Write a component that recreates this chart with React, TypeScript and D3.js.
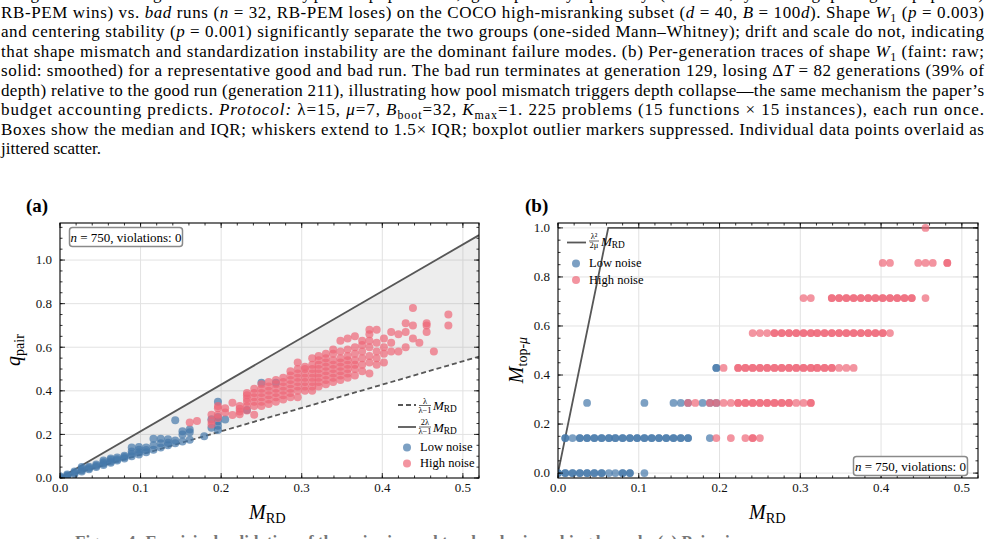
import React from 'react'
import * as d3 from 'd3'

const W = 988
const H = 539
const LAMBDA = 15
const MU = 7

const xTicks = [0, 0.1, 0.2, 0.3, 0.4, 0.5]
const yTicks = [0, 0.2, 0.4, 0.6, 0.8, 1.0]

// (a) q_pair vs M_RD, one entry per M_RD column: [M_RD, q_pair values]
const lowNoiseA: [number, number[]][] = [
  [0.000, [0.000, 0.004, 0.008]],
  [0.009, [0.008, 0.012, 0.016]],
  [0.018, [0.018, 0.024, 0.030]],
  [0.027, [0.030, 0.036, 0.042, 0.050]],
  [0.036, [0.040, 0.046, 0.052]],
  [0.045, [0.050, 0.056, 0.062]],
  [0.054, [0.060, 0.066, 0.072, 0.080]],
  [0.063, [0.070, 0.076, 0.084, 0.090]],
  [0.071, [0.080, 0.086, 0.094]],
  [0.080, [0.090, 0.096, 0.102]],
  [0.089, [0.100, 0.110, 0.122, 0.140]],
  [0.098, [0.108, 0.118, 0.130, 0.142]],
  [0.107, [0.118, 0.128, 0.140]],
  [0.116, [0.130, 0.150, 0.180]],
  [0.125, [0.140, 0.160, 0.180]],
  [0.134, [0.150, 0.162, 0.178]],
  [0.143, [0.160, 0.172, 0.265]],
  [0.152, [0.168, 0.200, 0.215]],
  [0.161, [0.176, 0.210, 0.222]],
  [0.179, [0.192]],
  [0.188, [0.230, 0.270]],
  [0.196, [0.220, 0.240, 0.260, 0.280, 0.350]],
  [0.205, [0.268]],
  [0.232, [0.312]],
  [0.250, [0.437]],
  [0.268, [0.437]],
]

const highNoiseA: [number, number[]][] = [
  [0.161, [0.255]],
  [0.170, [0.262]],
  [0.188, [0.245, 0.262, 0.290]],
  [0.196, [0.275, 0.290, 0.320, 0.330]],
  [0.205, [0.300, 0.320]],
  [0.214, [0.289, 0.345]],
  [0.223, [0.292, 0.305, 0.318, 0.330]],
  [0.232, [0.310, 0.330, 0.350, 0.365, 0.380, 0.390]],
  [0.241, [0.290, 0.330, 0.350, 0.370, 0.390, 0.410]],
  [0.250, [0.330, 0.350, 0.370, 0.390, 0.410, 0.430]],
  [0.259, [0.340, 0.360, 0.380, 0.400, 0.420, 0.440]],
  [0.268, [0.350, 0.370, 0.390, 0.410, 0.430, 0.450]],
  [0.277, [0.360, 0.380, 0.400, 0.420, 0.440, 0.460]],
  [0.286, [0.370, 0.390, 0.410, 0.430, 0.450, 0.470, 0.490]],
  [0.295, [0.370, 0.400, 0.420, 0.440, 0.460, 0.480, 0.500, 0.530]],
  [0.304, [0.400, 0.420, 0.440, 0.460, 0.480, 0.500, 0.510]],
  [0.313, [0.400, 0.420, 0.440, 0.460, 0.480, 0.500, 0.520, 0.550]],
  [0.321, [0.420, 0.440, 0.460, 0.480, 0.500, 0.520, 0.540, 0.560]],
  [0.330, [0.430, 0.450, 0.470, 0.490, 0.510, 0.530, 0.550, 0.570]],
  [0.339, [0.440, 0.460, 0.480, 0.500, 0.520, 0.540, 0.570, 0.590]],
  [0.348, [0.450, 0.470, 0.490, 0.510, 0.530, 0.550, 0.580, 0.630]],
  [0.357, [0.460, 0.480, 0.500, 0.520, 0.540, 0.560, 0.590, 0.640]],
  [0.366, [0.470, 0.500, 0.520, 0.540, 0.570, 0.600, 0.650]],
  [0.375, [0.490, 0.520, 0.550, 0.580, 0.610, 0.630]],
  [0.384, [0.480, 0.530, 0.560, 0.600, 0.630, 0.660, 0.680]],
  [0.393, [0.520, 0.550, 0.580, 0.620, 0.680]],
  [0.402, [0.530, 0.570, 0.600, 0.640]],
  [0.411, [0.580, 0.620, 0.670]],
  [0.420, [0.580, 0.660]],
  [0.429, [0.600, 0.670, 0.710]],
  [0.438, [0.640, 0.700, 0.780]],
  [0.446, [0.620]],
  [0.455, [0.670, 0.700, 0.710]],
  [0.464, [0.580]],
  [0.482, [0.700, 0.750]],
]

// (b) M_top-mu vs M_RD, one entry per level: [M_top-mu, M_RD values] (repeats = overlapping runs)
const lowNoiseB: [number, number[]][] = [
  [0.000, [0.000, 0.000, 0.009, 0.009, 0.018, 0.018, 0.027, 0.027, 0.036, 0.036, 0.045, 0.045, 0.054, 0.054, 0.063, 0.071, 0.080, 0.080, 0.089, 0.089, 0.107]],
  [0.143, [0.009, 0.009, 0.018, 0.027, 0.027, 0.036, 0.036, 0.045, 0.045, 0.054, 0.054, 0.063, 0.063, 0.071, 0.071, 0.080, 0.080, 0.089, 0.089, 0.098, 0.098, 0.107, 0.107, 0.116, 0.116, 0.125, 0.125, 0.134, 0.134, 0.143, 0.143, 0.152, 0.152, 0.161, 0.161, 0.188]],
  [0.286, [0.036, 0.107, 0.143, 0.152, 0.161, 0.179, 0.188, 0.196]],
  [0.429, [0.196, 0.196]],
]

const highNoiseB: [number, number[]][] = [
  [0.143, [0.196, 0.214, 0.232, 0.241, 0.241, 0.250]],
  [0.286, [0.161, 0.170, 0.188, 0.196, 0.205, 0.214, 0.223, 0.223, 0.232, 0.232, 0.241, 0.241, 0.250, 0.250, 0.259, 0.259, 0.268, 0.268, 0.277, 0.277, 0.286, 0.286, 0.295, 0.304, 0.313, 0.313]],
  [0.429, [0.205, 0.223, 0.223, 0.232, 0.232, 0.241, 0.241, 0.250, 0.250, 0.259, 0.259, 0.268, 0.268, 0.277, 0.277, 0.286, 0.286, 0.295, 0.295, 0.304, 0.304, 0.313, 0.313, 0.321, 0.321, 0.330, 0.330, 0.339, 0.339, 0.348, 0.357, 0.366]],
  [0.571, [0.241, 0.250, 0.259, 0.268, 0.268, 0.277, 0.277, 0.286, 0.286, 0.295, 0.295, 0.304, 0.304, 0.313, 0.313, 0.321, 0.321, 0.330, 0.330, 0.339, 0.339, 0.348, 0.348, 0.357, 0.357, 0.366, 0.366, 0.375, 0.375, 0.384, 0.384, 0.393, 0.393, 0.402, 0.402, 0.411]],
  [0.714, [0.304, 0.313, 0.339, 0.339, 0.348, 0.348, 0.357, 0.357, 0.366, 0.366, 0.375, 0.375, 0.384, 0.384, 0.393, 0.393, 0.402, 0.402, 0.411, 0.411, 0.420, 0.420, 0.429, 0.429, 0.438, 0.438, 0.455]],
  [0.857, [0.402, 0.411, 0.446, 0.455, 0.464, 0.482, 0.482]],
  [1.000, [0.455]],
]

const BLUE = '#4477AA'
const PINK = '#EE6677'
const LINE = '#575757'
const SERIF = "'Liberation Serif', 'Times New Roman', Times, serif"

const colsToPts = (cols: [number, number[]][]) => cols.flatMap(([x, ys]) => ys.map(y => [x, y]))
const rowsToPts = (rows: [number, number[]][]) => rows.flatMap(([y, xs]) => xs.map(x => [x, y]))

function Grid({ x, y }: any) {
  const [l, r] = x.range()
  const [b, t] = y.range()
  return (
    <g stroke="#e2e2e2" strokeWidth={1}>
      {xTicks.filter(v => v > 0).map(v => <line key={'gx' + v} x1={x(v)} x2={x(v)} y1={t} y2={b} />)}
      {yTicks.filter(v => y(v) < b - 2).map(v => <line key={'gy' + v} x1={l} x2={r} y1={y(v)} y2={y(v)} />)}
    </g>
  )
}

function Frame({ x, y, labelRight }: any) {
  const [l, r] = x.range()
  const [b, t] = y.range()
  const xMinor = d3.range(0, x.domain()[1] + 1e-9, 0.02)
  const yMinor = d3.range(0, y.domain()[1] + 1e-9, 0.05)
  const fmt = d3.format('.1f')
  return (
    <g>
      <g stroke="#000" strokeWidth={0.8}>
        {xMinor.map(v => (
          <g key={'xm' + v}>
            <line x1={x(v)} x2={x(v)} y1={b} y2={b - 2.5} />
            <line x1={x(v)} x2={x(v)} y1={t} y2={t + 2.5} />
          </g>
        ))}
        {xTicks.map(v => (
          <g key={'xM' + v}>
            <line x1={x(v)} x2={x(v)} y1={b} y2={b - 5} />
            <line x1={x(v)} x2={x(v)} y1={t} y2={t + 5} />
          </g>
        ))}
        {yMinor.map(v => (
          <g key={'ym' + v}>
            <line x1={l} x2={l + 2.5} y1={y(v)} y2={y(v)} />
            <line x1={r} x2={r - 2.5} y1={y(v)} y2={y(v)} />
          </g>
        ))}
        {yTicks.map(v => (
          <g key={'yM' + v}>
            <line x1={l} x2={l + 5} y1={y(v)} y2={y(v)} />
            <line x1={r} x2={r - 5} y1={y(v)} y2={y(v)} />
          </g>
        ))}
      </g>
      <rect x={l} y={t} width={r - l} height={b - t} fill="none" stroke="#000" strokeWidth={1.1} />
      <g fontFamily={SERIF} fontSize={13} fill="#111">
        {xTicks.map(v => (
          <text key={'xl' + v} x={x(v)} y={492} textAnchor="middle">{fmt(v)}</text>
        ))}
        {yTicks.map(v => (
          <text key={'yl' + v} x={labelRight} y={y(v)} dy="0.33em" textAnchor="end">{fmt(v)}</text>
        ))}
      </g>
    </g>
  )
}

function Dots({ x, y, pts, color, r }: any) {
  return (
    <g fill={color} fillOpacity={0.7}>
      {pts.map((p: number[], i: number) => <circle key={i} cx={x(p[0])} cy={y(p[1])} r={r} />)}
    </g>
  )
}

function MRD({ x, y, size }: any) {
  return (
    <text x={x} y={y} fontFamily={SERIF} fontSize={size}>
      <tspan fontStyle="italic">M</tspan>
      <tspan fontSize={size * 0.72} dy={size * 0.18}>RD</tspan>
    </text>
  )
}

function Frac({ x, y, num, den, w }: any) {
  return (
    <g fontFamily={SERIF} fontSize={8.5} textAnchor="middle">
      <text x={x + w / 2} y={y - 1.8}>{num}</text>
      <line x1={x} x2={x + w} y1={y} y2={y} stroke="#000" strokeWidth={0.6} />
      <text x={x + w / 2} y={y + 7.2}>{den}</text>
    </g>
  )
}

function NoteBox({ x, y, w }: any) {
  return (
    <g>
      <rect x={x} y={y} width={w} height={19} rx={3} fill="#fff" stroke="#8a8a8a" strokeWidth={1.5} />
      <text x={x + w / 2} y={y + 14} textAnchor="middle" fontFamily={SERIF} fontSize={13}>
        <tspan fontStyle="italic">n</tspan> = 750, violations: 0
      </text>
    </g>
  )
}

function PanelA() {
  const x = d3.scaleLinear().domain([0, 0.52]).range([60, 479])
  const y = d3.scaleLinear().domain([0, 1.17]).range([478, 223])
  const lo = LAMBDA / (LAMBDA - 1)
  const hi = (2 * LAMBDA) / (LAMBDA - 1)
  const xs = x.domain()
  const band = d3.area<number>().x(d => x(d)).y0(d => y(lo * d)).y1(d => y(hi * d))(xs)
  const lineLo = d3.line<number>().x(d => x(d)).y(d => y(lo * d))(xs)
  const lineHi = d3.line<number>().x(d => x(d)).y(d => y(hi * d))(xs)
  return (
    <g>
      <defs>
        <clipPath id="clipA"><rect x={60} y={223} width={419} height={255} /></clipPath>
      </defs>
      <Grid x={x} y={y} />
      <g clipPath="url(#clipA)">
        <path d={band || ''} fill="#8c8c8c" fillOpacity={0.16} />
        <path d={lineLo || ''} fill="none" stroke={LINE} strokeWidth={1.8} strokeDasharray="5,3" />
        <path d={lineHi || ''} fill="none" stroke={LINE} strokeWidth={1.8} />
        <Dots x={x} y={y} pts={colsToPts(lowNoiseA)} color={BLUE} r={4} />
        <Dots x={x} y={y} pts={colsToPts(highNoiseA)} color={PINK} r={4} />
      </g>
      <Frame x={x} y={y} labelRight={52} />
      <NoteBox x={69.5} y={227.5} w={113} />
      <g>
        <line x1={398} x2={416} y1={405} y2={405} stroke={LINE} strokeWidth={1.8} strokeDasharray="5,3" />
        <Frac x={419} y={405.5} num="λ" den="λ−1" w={12} />
        <MRD x={433} y={410} size={13} />
        <line x1={398} x2={416} y1={427} y2={427} stroke={LINE} strokeWidth={1.8} />
        <Frac x={419} y={427} num="2λ" den="λ−1" w={12} />
        <MRD x={433} y={431.5} size={13} />
        <circle cx={407} cy={447.5} r={4} fill={BLUE} fillOpacity={0.7} />
        <text x={420} y={451} fontFamily={SERIF} fontSize={12.5}>Low noise</text>
        <circle cx={407} cy={463.5} r={4} fill={PINK} fillOpacity={0.7} />
        <text x={420} y={467} fontFamily={SERIF} fontSize={12.5}>High noise</text>
      </g>
      <text x={26} y={212} fontFamily={SERIF} fontSize={19} fontWeight="bold">(a)</text>
      <MRD x={249} y={519} size={20} />
      <text transform="translate(20,350) rotate(-90)" textAnchor="middle" fontFamily={SERIF} fontSize={20}>
        <tspan fontStyle="italic">q</tspan>
        <tspan fontSize={14} dy={4}>pair</tspan>
      </text>
    </g>
  )
}

function PanelB() {
  const x = d3.scaleLinear().domain([0, 0.52]).range([558, 978])
  const y = d3.scaleLinear().domain([-0.02, 1.02]).range([478, 223])
  const slope = (LAMBDA * LAMBDA) / (2 * MU)
  const knee = 1 / slope
  const bound = d3.line<number>().x(d => x(d)).y(d => y(Math.min(1, slope * d)))([0, knee, x.domain()[1]])
  return (
    <g>
      <defs>
        <clipPath id="clipB"><rect x={558} y={223} width={420} height={255} /></clipPath>
      </defs>
      <Grid x={x} y={y} />
      <g clipPath="url(#clipB)">
        <path d={bound || ''} fill="none" stroke={LINE} strokeWidth={1.8} />
        <Dots x={x} y={y} pts={rowsToPts(lowNoiseB)} color={BLUE} r={3.9} />
        <Dots x={x} y={y} pts={rowsToPts(highNoiseB)} color={PINK} r={3.9} />
      </g>
      <Frame x={x} y={y} labelRight={550} />
      <NoteBox x={853.5} y={456.5} w={114} />
      <g>
        <line x1={567} x2={586} y1={242.5} y2={242.5} stroke={LINE} strokeWidth={1.8} />
        <Frac x={589} y={241} num="λ²" den="2μ" w={10} />
        <MRD x={601} y={246} size={13} />
        <circle cx={576} cy={263.5} r={4} fill={BLUE} fillOpacity={0.7} />
        <text x={589} y={267} fontFamily={SERIF} fontSize={12.5}>Low noise</text>
        <circle cx={576} cy={280} r={4} fill={PINK} fillOpacity={0.7} />
        <text x={589} y={283.5} fontFamily={SERIF} fontSize={12.5}>High noise</text>
      </g>
      <text x={525} y={212} fontFamily={SERIF} fontSize={19} fontWeight="bold">(b)</text>
      <MRD x={749} y={519} size={20} />
      <text transform="translate(523,360) rotate(-90)" textAnchor="middle" fontFamily={SERIF} fontSize={20}>
        <tspan fontStyle="italic">M</tspan>
        <tspan fontSize={14} dy={4}>top-</tspan>
        <tspan fontSize={14} fontStyle="italic">μ</tspan>
      </text>
    </g>
  )
}

function Caption() {
  const it = { fontStyle: 'italic' as const }
  return (
    <g fontFamily={SERIF} fontSize={17} fill="#000">
      <text x={1} y={-1} textLength={983} lengthAdjust="spacing">
        diagnostics for good runs and typical pipelines, grouped by quality (n = 43, yielding per-group pairs)
      </text>
      <text x={1} y={17.5} textLength={983} lengthAdjust="spacing">
        RB-PEM wins) vs. <tspan {...it}>bad</tspan> runs (<tspan {...it}>n</tspan> = 32, RB-PEM loses) on the COCO high-misranking subset (<tspan {...it}>d</tspan> = 40, <tspan {...it}>B</tspan> = 100<tspan {...it}>d</tspan>). Shape <tspan {...it}>W</tspan><tspan fontSize={12} dy={4}>1</tspan><tspan dy={-4}> (</tspan><tspan {...it}>p</tspan> = 0.003)
      </text>
      <text x={1} y={37} textLength={983} lengthAdjust="spacing">
        and centering stability (<tspan {...it}>p</tspan> = 0.001) significantly separate the two groups (one-sided Mann–Whitney); drift and scale do not, indicating
      </text>
      <text x={1} y={56.5} textLength={983} lengthAdjust="spacing">
        that shape mismatch and standardization instability are the dominant failure modes. (b) Per-generation traces of shape <tspan {...it}>W</tspan><tspan fontSize={12} dy={4}>1</tspan><tspan dy={-4}> (faint: raw;</tspan>
      </text>
      <text x={1} y={76} textLength={983} lengthAdjust="spacing">
        solid: smoothed) for a representative good and bad run. The bad run terminates at generation 129, losing Δ<tspan {...it}>T</tspan> = 82 generations (39% of
      </text>
      <text x={1} y={95.5} textLength={983} lengthAdjust="spacing">
        depth) relative to the good run (generation 211), illustrating how pool mismatch triggers depth collapse—the same mechanism the paper’s
      </text>
      <text x={1} y={115} textLength={983} lengthAdjust="spacing">
        budget accounting predicts. <tspan {...it}>Protocol:</tspan> λ=15, <tspan {...it}>μ</tspan>=7, <tspan {...it}>B</tspan><tspan fontSize={12} dy={4}>boot</tspan><tspan dy={-4}>=32, </tspan><tspan {...it}>K</tspan><tspan fontSize={12} dy={4}>max</tspan><tspan dy={-4}>=1. 225 problems (15 functions × 15 instances), each run once.</tspan>
      </text>
      <text x={1} y={134.5} textLength={983} lengthAdjust="spacing">
        Boxes show the median and IQR; whiskers extend to 1.5× IQR; boxplot outlier markers suppressed. Individual data points overlaid as
      </text>
      <text x={1} y={154}>jittered scatter.</text>
      <text x={75} y={547} fontWeight="bold" fill="#777">
        Figure 4: Empirical validation of the pairwise and top-level misranking bounds. (a) Pairwise error
      </text>
    </g>
  )
}

export default function App() {
  return (
    <svg width={W} height={H} viewBox={`0 0 ${W} ${H}`} style={{ position: 'absolute', left: 0, top: 0, background: '#fff' }}>
      <rect width={W} height={H} fill="#fff" />
      <Caption />
      <PanelA />
      <PanelB />
    </svg>
  )
}
